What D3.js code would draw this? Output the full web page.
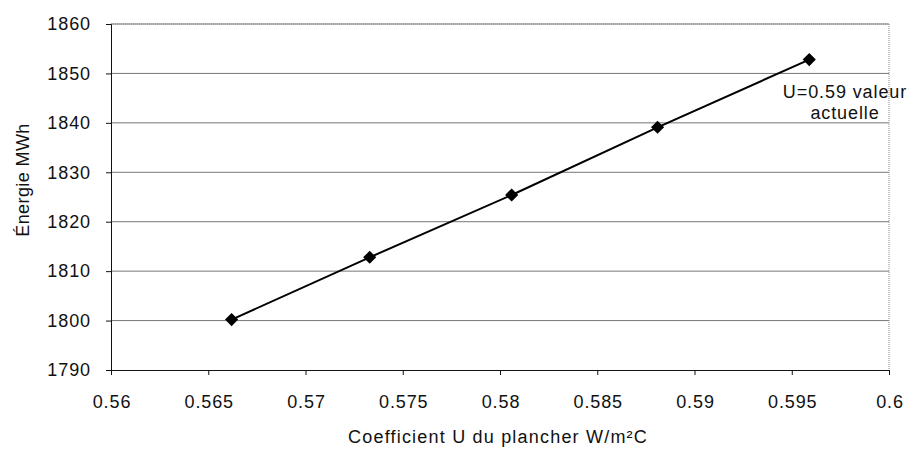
<!DOCTYPE html>
<html><head><meta charset="utf-8">
<script src="https://cdn.jsdelivr.net/npm/d3@7"></script>
<style>body{margin:0;background:#fff;} text{font-family:"Liberation Sans",Arial,sans-serif;}</style>
</head><body>
<script>
const uValues = [0.5662, 0.5733, 0.5806, 0.5881, 0.5959];
const energy = [1800.2, 1812.8, 1825.4, 1839.1, 1852.8];
const xTicks = [0.56, 0.565, 0.57, 0.575, 0.58, 0.585, 0.59, 0.595, 0.6];
const yTicks = [1790, 1800, 1810, 1820, 1830, 1840, 1850, 1860];
const xTitle = "Coefficient U du plancher W/m²C";
const yTitle = "Énergie MWh";
const annotation = ["U=0.59 valeur", "actuelle"];

const W = 913, H = 455;
const m = {l:111, r:24, t:24, b:85};
const svg = d3.select("body").append("svg").attr("width", W).attr("height", H);
const x = d3.scaleLinear().domain([0.56, 0.6]).range([m.l, W - m.r]);
const y = d3.scaleLinear().domain([1790, 1860]).range([H - m.b, m.t]);

const fs = "18px", ls = "0.9px";

// gridlines
svg.append("g").selectAll("line").data(yTicks.slice(1)).join("line")
  .attr("x1", x(0.56)).attr("x2", x(0.6))
  .attr("y1", d => y(d)).attr("y2", d => y(d))
  .attr("stroke", "#777").attr("stroke-width", 1);
// plot border top/right dotted
svg.append("path")
  .attr("d", `M${x(0.56)},${y(1860)}H${x(0.6)}V${y(1790)}`)
  .attr("fill", "none").attr("stroke", "#888").attr("stroke-dasharray", "1,1");

const xAxis = svg.append("g").attr("transform", `translate(0,${y(1790)})`)
  .call(d3.axisBottom(x).tickValues(xTicks).tickFormat(d => String(+d.toFixed(3))).tickSize(5).tickPadding(20));
const yAxis = svg.append("g").attr("transform", `translate(${x(0.56)},0)`)
  .call(d3.axisLeft(y).tickValues(yTicks).tickFormat(d3.format("d")).tickSize(5).tickPadding(15));
[xAxis, yAxis].forEach(g => {
  g.selectAll("text").attr("font-size", fs).attr("fill", "#111")
    .attr("font-family", "Liberation Sans, Arial, sans-serif").style("letter-spacing", ls);
  g.selectAll("path,line").attr("stroke", "#111");
});
xAxis.selectAll("text").attr("dx", "0.5px");

// line
const pts = uValues.map((u, i) => [u, energy[i]]);
svg.append("path").datum(pts)
  .attr("d", d3.line().x(d => x(d[0])).y(d => y(d[1])))
  .attr("fill", "none").attr("stroke", "#000").attr("stroke-width", 2);
svg.append("g").selectAll("path").data(pts).join("path")
  .attr("d", d3.symbol(d3.symbolDiamond2 || d3.symbolDiamond, 110))
  .attr("transform", d => `translate(${x(d[0])},${y(d[1])})`)
  .attr("fill", "#000");

// annotation
const ann = svg.append("text").attr("text-anchor", "middle").attr("font-size", fs)
  .attr("fill", "#111").style("letter-spacing", ls);
annotation.forEach((t, i) => ann.append("tspan").attr("x", 845).attr("y", 98 + i * 21).text(t));

// titles
svg.append("text").attr("x", 498).attr("y", 443).attr("text-anchor", "middle")
  .attr("font-size", fs).attr("fill", "#111").style("letter-spacing", "1.2px").text(xTitle);
svg.append("text").attr("transform", `translate(29,180) rotate(-90)`)
  .attr("text-anchor", "middle").attr("font-size", fs).attr("fill", "#111")
  .style("letter-spacing", "0.4px").text(yTitle);
</script>
</body></html>
